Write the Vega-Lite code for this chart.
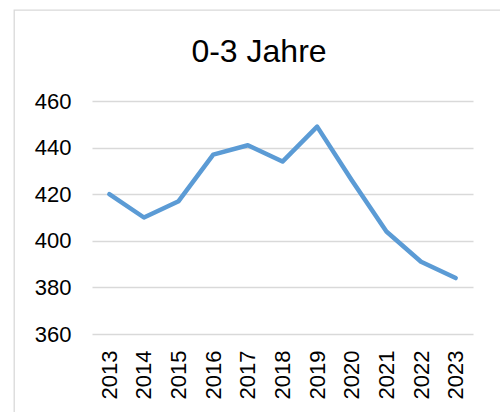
{
  "$schema": "https://vega.github.io/schema/vega-lite/v6.json",
  "autosize": "none",
  "padding": {"left": 14, "top": 10, "right": 0, "bottom": 0},
  "width": 490,
  "height": 406,
  "background": "white",
  "config": {
    "font": "Liberation Sans",
    "view": {"stroke": "#d9d9d9", "strokeWidth": 1.3}
  },
  "title": {
    "text": "0-3 Jahre",
    "font": "Liberation Sans",
    "fontSize": 32,
    "fontWeight": "normal",
    "color": "#000000",
    "anchor": "middle",
    "frame": "group",
    "baseline": "alphabetic",
    "offset": 0,
    "dy": 84
  },
  "data": {
    "values": [
      {"Jahr": "2013", "Wert": 420},
      {"Jahr": "2014", "Wert": 410},
      {"Jahr": "2015", "Wert": 417},
      {"Jahr": "2016", "Wert": 437},
      {"Jahr": "2017", "Wert": 441},
      {"Jahr": "2018", "Wert": 434},
      {"Jahr": "2019", "Wert": 449},
      {"Jahr": "2020", "Wert": 426},
      {"Jahr": "2021", "Wert": 404},
      {"Jahr": "2022", "Wert": 391},
      {"Jahr": "2023", "Wert": 384}
    ]
  },
  "mark": {
    "type": "line",
    "color": "#5b9bd5",
    "strokeWidth": 4.5,
    "strokeCap": "round",
    "strokeJoin": "round"
  },
  "encoding": {
    "x": {
      "field": "Jahr",
      "type": "ordinal",
      "scale": {"range": [78, 459], "paddingInner": 0, "paddingOuter": 0.5},
      "axis": {
        "title": null,
        "labelAngle": -90,
        "labelAlign": "right",
        "labelBaseline": "middle",
        "labelFontSize": 22,
        "labelColor": "#000000",
        "labelPadding": 16,
        "ticks": false,
        "domain": false,
        "grid": false,
        "offset": -82
      }
    },
    "y": {
      "field": "Wert",
      "type": "quantitative",
      "scale": {"domain": [360, 460], "nice": false, "zero": false, "range": [324, 91]},
      "axis": {
        "title": null,
        "values": [360, 380, 400, 420, 440, 460],
        "labelFontSize": 22,
        "labelColor": "#000000",
        "labelPadding": 21,
        "ticks": false,
        "domain": false,
        "grid": true,
        "gridColor": "#d9d9d9",
        "gridWidth": 1.6,
        "offset": -78
      }
    }
  }
}
